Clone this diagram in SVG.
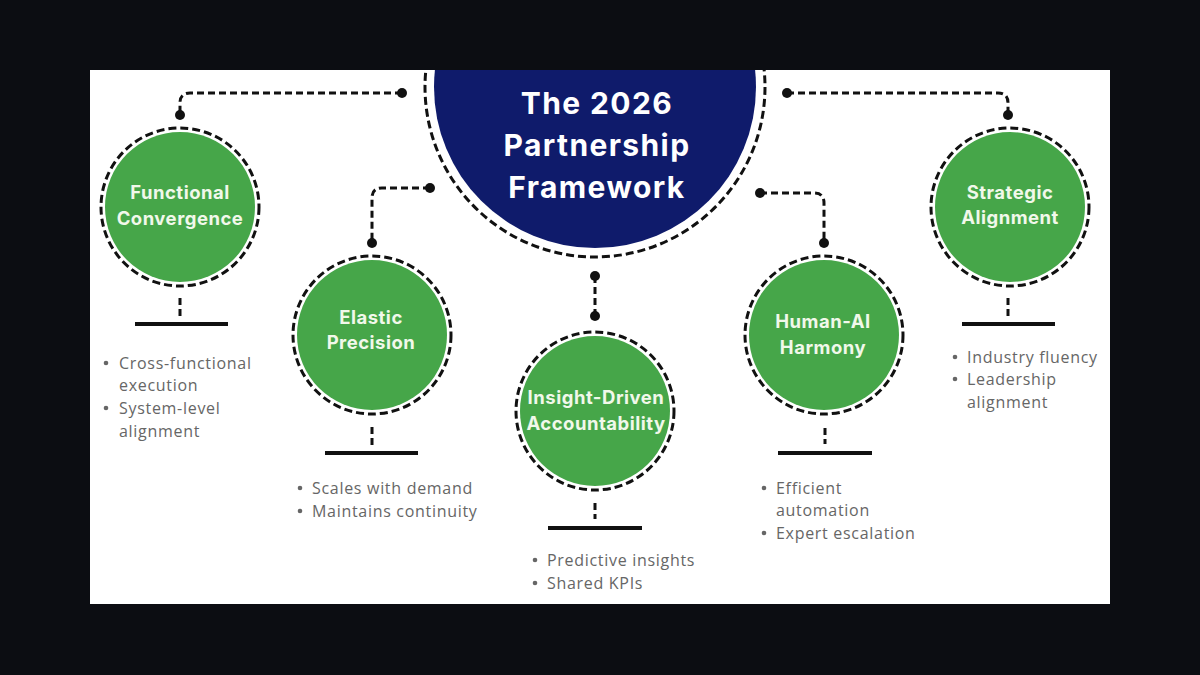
<svg xmlns="http://www.w3.org/2000/svg" width="1200" height="675" viewBox="0 0 1200 675">
<defs>
<clipPath id="panel"><rect x="90" y="70" width="1020" height="534"/></clipPath>
<style>
.ring{fill:none;stroke:#111;stroke-width:3;stroke-dasharray:8 4}
.green{fill:#46a649}
.lbl{font-family:Inter,"Open Sans",sans-serif;font-weight:700;font-size:18.5px;letter-spacing:0.5px;fill:#f1f8ea;text-anchor:middle}
.title{font-family:Inter,"Open Sans",sans-serif;font-weight:700;font-size:30px;letter-spacing:1.4px;fill:#ffffff;text-anchor:middle}
.conn{fill:none;stroke:#111;stroke-width:3;stroke-dasharray:7 4}
.dot{fill:#111}
.bar{stroke:#111;stroke-width:4}
.stub{stroke:#111;stroke-width:3;stroke-dasharray:7 4}
.bul{font-family:"Open Sans",sans-serif;font-size:16px;letter-spacing:0.7px;fill:#666}
.bd{fill:#666}
</style>
</defs>
<rect width="1200" height="675" fill="#0c0d12"/>
<rect x="90" y="70" width="1020" height="534" fill="#ffffff"/>

<g id="center" clip-path="url(#panel)">
<circle cx="595" cy="87" r="170" class="ring"/>
<circle cx="595" cy="87" r="161" fill="#0f1b6b"/>
<text class="title" x="597" y="114">The 2026</text>
<text class="title" x="597" y="156">Partnership</text>
<text class="title" x="597" y="198">Framework</text>
</g>

<g id="connectors">
<path class="conn" d="M402 93 H190 Q180 93 180 103 V115"/>
<circle class="dot" cx="402" cy="93" r="5"/><circle class="dot" cx="180" cy="115" r="5"/>
<path class="conn" d="M430 188 H382 Q372 188 372 198 V243"/>
<circle class="dot" cx="430" cy="188" r="5"/><circle class="dot" cx="372" cy="243" r="5"/>
<path class="conn" d="M595 276 V316"/>
<circle class="dot" cx="595" cy="276" r="5"/><circle class="dot" cx="595" cy="316" r="5"/>
<path class="conn" d="M760 193 H814 Q824 193 824 203 V243"/>
<circle class="dot" cx="760" cy="193" r="5"/><circle class="dot" cx="824" cy="243" r="5"/>
<path class="conn" d="M787 93 H998 Q1008 93 1008 103 V115"/>
<circle class="dot" cx="787" cy="93" r="5"/><circle class="dot" cx="1008" cy="115" r="5"/>
</g>

<g id="functional">
<circle cx="180" cy="207" r="75" class="green"/>
<circle cx="180" cy="207" r="79" class="ring"/>
<text class="lbl" x="180" y="199">Functional</text>
<text class="lbl" x="180" y="225">Convergence</text>
<line class="stub" x1="180" y1="298" x2="180" y2="316"/>
<line class="bar" x1="135" y1="324" x2="228" y2="324"/>
<circle class="bd" cx="106" cy="363" r="2.3"/>
<text class="bul" x="119" y="369">Cross-functional</text>
<text class="bul" x="119" y="391">execution</text>
<circle class="bd" cx="106" cy="408" r="2.3"/>
<text class="bul" x="119" y="414">System-level</text>
<text class="bul" x="119" y="437">alignment</text>
</g>

<g id="elastic">
<circle cx="372" cy="335" r="75" class="green"/>
<circle cx="372" cy="335" r="79" class="ring"/>
<text class="lbl" x="371" y="324">Elastic</text>
<text class="lbl" x="371" y="349">Precision</text>
<line class="stub" x1="372" y1="427" x2="372" y2="445"/>
<line class="bar" x1="325" y1="453" x2="418" y2="453"/>
<circle class="bd" cx="300" cy="488" r="2.3"/>
<text class="bul" x="312" y="494">Scales with demand</text>
<circle class="bd" cx="300" cy="511" r="2.3"/>
<text class="bul" x="312" y="517">Maintains continuity</text>
</g>

<g id="insight">
<circle cx="595" cy="411" r="75" class="green"/>
<circle cx="595" cy="411" r="79" class="ring"/>
<text class="lbl" x="596" y="404">Insight-Driven</text>
<text class="lbl" x="596" y="430">Accountability</text>
<line class="stub" x1="595" y1="503" x2="595" y2="519"/>
<line class="bar" x1="548" y1="528" x2="642" y2="528"/>
<circle class="bd" cx="535" cy="560" r="2.3"/>
<text class="bul" x="547" y="566">Predictive insights</text>
<circle class="bd" cx="535" cy="583" r="2.3"/>
<text class="bul" x="547" y="589">Shared KPIs</text>
</g>

<g id="human">
<circle cx="824" cy="335" r="75" class="green"/>
<circle cx="824" cy="335" r="79" class="ring"/>
<text class="lbl" x="823" y="328">Human-AI</text>
<text class="lbl" x="823" y="354">Harmony</text>
<line class="stub" x1="825" y1="428" x2="825" y2="444"/>
<line class="bar" x1="778" y1="453" x2="872" y2="453"/>
<circle class="bd" cx="764" cy="488" r="2.3"/>
<text class="bul" x="776" y="494">Efficient</text>
<text class="bul" x="776" y="516">automation</text>
<circle class="bd" cx="764" cy="533" r="2.3"/>
<text class="bul" x="776" y="539">Expert escalation</text>
</g>

<g id="strategic">
<circle cx="1010" cy="207" r="75" class="green"/>
<circle cx="1010" cy="207" r="79" class="ring"/>
<text class="lbl" x="1010" y="199">Strategic</text>
<text class="lbl" x="1010" y="224">Alignment</text>
<line class="stub" x1="1008" y1="298" x2="1008" y2="316"/>
<line class="bar" x1="962" y1="324" x2="1055" y2="324"/>
<circle class="bd" cx="955" cy="357" r="2.3"/>
<text class="bul" x="967" y="363">Industry fluency</text>
<circle class="bd" cx="955" cy="379" r="2.3"/>
<text class="bul" x="967" y="385">Leadership</text>
<text class="bul" x="967" y="408">alignment</text>
</g>
</svg>
